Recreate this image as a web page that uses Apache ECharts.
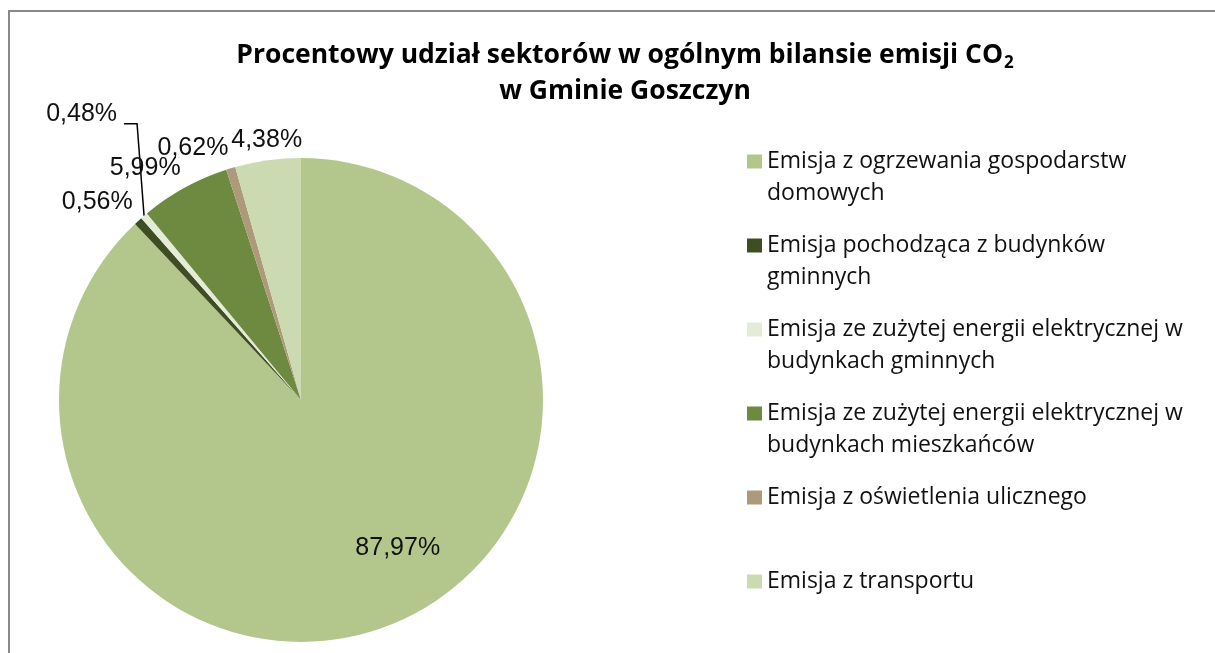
<!DOCTYPE html>
<html>
<head>
<meta charset="utf-8">
<script src="https://cdn.jsdelivr.net/npm/echarts@6/dist/echarts.min.js"></script>
<style>
  html, body { margin: 0; padding: 0; background: #fff; }
  #main { width: 1215px; height: 653px; }
</style>
</head>
<body>
<div id="main"></div>
<script>
(function () {
    'use strict';

    // sektory emisji, kolejność jak w legendzie
    var categories = [
        'Emisja z ogrzewania gospodarstw domowych',
        'Emisja pochodząca z budynków gminnych',
        'Emisja ze zużytej energii elektrycznej w budynkach gminnych',
        'Emisja ze zużytej energii elektrycznej w budynkach mieszkańców',
        'Emisja z oświetlenia ulicznego',
        'Emisja z transportu'
    ];
    var legendLabels = [
        ['Emisja z ogrzewania gospodarstw', 'domowych'],
        ['Emisja pochodząca z budynków', 'gminnych'],
        ['Emisja ze zużytej energii elektrycznej w', 'budynkach gminnych'],
        ['Emisja ze zużytej energii elektrycznej w', 'budynkach mieszkańców'],
        ['Emisja z oświetlenia ulicznego', ' '],
        ['Emisja z transportu', ' ']
    ];
    var shares = [87.97, 0.56, 0.48, 5.99, 0.62, 4.38];
    var colors = ['#b3c78d', '#3e4d22', '#e4ebd7', '#6d8a40', '#ad9a7b', '#ccdab2'];

    var cx = 301, cy = 400, R = 242;
    var total = shares.reduce(function (a, b) { return a + b; }, 0);

    function fmt(v) {
        return v.toFixed(2).replace('.', ',') + '%';
    }

    // etykiety zewnętrzne - rogiem przy krawędzi wycinka (jak w Excelu)
    function placeLabel(p) {
        var i = p.dataIndex;
        if (i === 0) {
            return { dx: 51, dy: 33 };
        }
        var before = 0;
        for (var k = 0; k < i; k++) before += shares[k];
        var mid = (before + shares[i] / 2) / total * Math.PI * 2;
        var dx = Math.sin(mid), dy = -Math.cos(mid);
        var ex = cx + R * dx, ey = cy + R * dy;
        if (i === 2) {
            // przesunięta w górę, z linią odniesienia
            var lx = ex - 27, ly = ey - 89;
            return {
                x: lx, y: ly, align: 'right', verticalAlign: 'bottom',
                labelLinePoints: [[lx + 7, ly - 3], [lx + 20, ly - 3], [ex, ey]]
            };
        }
        var gap = 8;
        return {
            x: ex + dx * gap,
            y: ey + dy * gap,
            align: Math.abs(dx) < 0.2 ? 'center' : (dx < 0 ? 'right' : 'left'),
            verticalAlign: dy < 0 ? 'bottom' : 'top'
        };
    }

    var dom = document.getElementById('main');
    var myChart = echarts.init(dom);

    var pieData = categories.map(function (name, i) {
        var item = {
            name: name,
            value: shares[i],
            itemStyle: { color: colors[i] },
            labelLine: { show: i === 2 }
        };
        if (i === 0) {
            item.label = { position: 'inside' };
        }
        return item;
    });

    var option = {
        backgroundColor: '#fff',
        animation: false,
        title: {
            text: 'Procentowy udział sektorów w ogólnym bilansie emisji CO{sub|2}\nw Gminie Goszczyn',
            left: 620,
            top: 32,
            textAlign: 'center',
            textStyle: {
                fontFamily: 'Open Sans',
                fontWeight: 'bold',
                fontSize: 26.5,
                lineHeight: 36,
                color: '#000',
                rich: {
                    sub: {
                        fontFamily: 'Open Sans',
                        fontWeight: 'bold',
                        fontSize: 17,
                        color: '#000',
                        padding: [16, 0, 0, 1]
                    }
                }
            }
        },
        legend: {
            orient: 'vertical',
            left: 747,
            top: 150,
            padding: 0,
            itemWidth: 15,
            itemHeight: 14,
            itemGap: 29,
            icon: 'rect',
            selectedMode: false,
            formatter: function (name) {
                return legendLabels[categories.indexOf(name)].map(function (s) {
                    return '{t|' + s + '}';
                }).join('\n');
            },
            textStyle: {
                padding: [32, 0, 0, 0],
                rich: {
                    t: {
                        fontFamily: 'Open Sans',
                        fontSize: 23,
                        lineHeight: 32,
                        color: '#111'
                    }
                }
            }
        },
        graphic: [{
            type: 'rect',
            shape: { x: 9, y: 11, width: 1400, height: 900 },
            style: { fill: 'none', stroke: '#888', lineWidth: 2 },
            silent: true
        }],
        series: [{
            type: 'pie',
            center: [cx, cy],
            radius: R,
            startAngle: 90,
            clockwise: true,
            label: {
                show: true,
                position: 'outside',
                fontFamily: 'Liberation Sans',
                fontSize: 25,
                color: '#111',
                formatter: function (p) {
                    return fmt(p.value);
                }
            },
            labelLine: {
                length: 10,
                length2: 10,
                lineStyle: { color: '#000', width: 1.5 }
            },
            labelLayout: placeLabel,
            emphasis: { disabled: true },
            data: pieData
        }]
    };
    myChart.setOption(option, true);
}());
</script>
</body>
</html>
